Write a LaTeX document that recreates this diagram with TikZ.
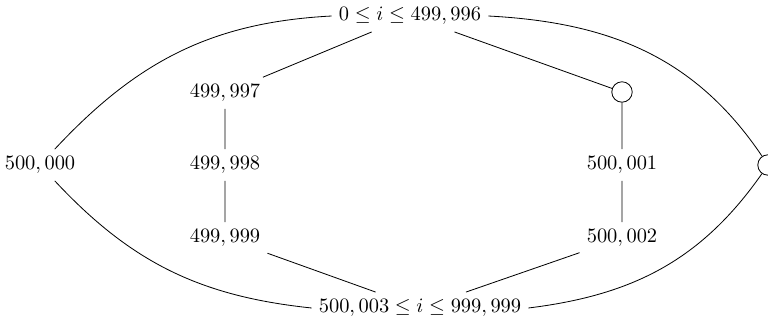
\documentclass[tikz,border=0pt]{standalone}
\usepackage{amsmath}
\usepackage{amssymb}
\usepackage{tikz}

\begin{document}
\begin{tikzpicture}[x=0.0172cm, y=0.0172cm,
    joint/.style={circle, draw, fill=white, inner sep=0pt, minimum size=10}]
    % Page frame
    \useasboundingbox (0,0) rectangle (768,323);

    % Range nodes
    \node (top) at (410,307) {$0 \leq i \leq 499,996$};
    \node (bot) at (420,15) {$500,003 \leq i \leq 999,999$};

    % Left chain
    \node (n97) at (225,230) {$499,997$};
    \node (n98) at (225,158) {$499,998$};
    \node (n99) at (225,85) {$499,999$};
    \node (n00) at (40,158) {$500,000$};

    % Right chain
    \node[joint] (j1) at (622,231) {};
    \node (n01) at (622,158) {$500,001$};
    \node (n02) at (622,85) {$500,002$};
    \node[joint] (j2) at (768,158) {};

    % Straight edges
    \draw (top) -- (n97) -- (n98) -- (n99) -- (bot);
    \draw (top) -- (j1) -- (n01) -- (n02) -- (bot);

    % Outer arcs
    \draw (n00) to[out=47, in=-177] (top.west);
    \draw (n00) to[out=-47, in=174] (bot.west);
    \draw (top.east) to[out=-3, in=124] (j2);
    \draw (bot.east) to[out=7, in=-125] (j2);
\end{tikzpicture}
\end{document}
